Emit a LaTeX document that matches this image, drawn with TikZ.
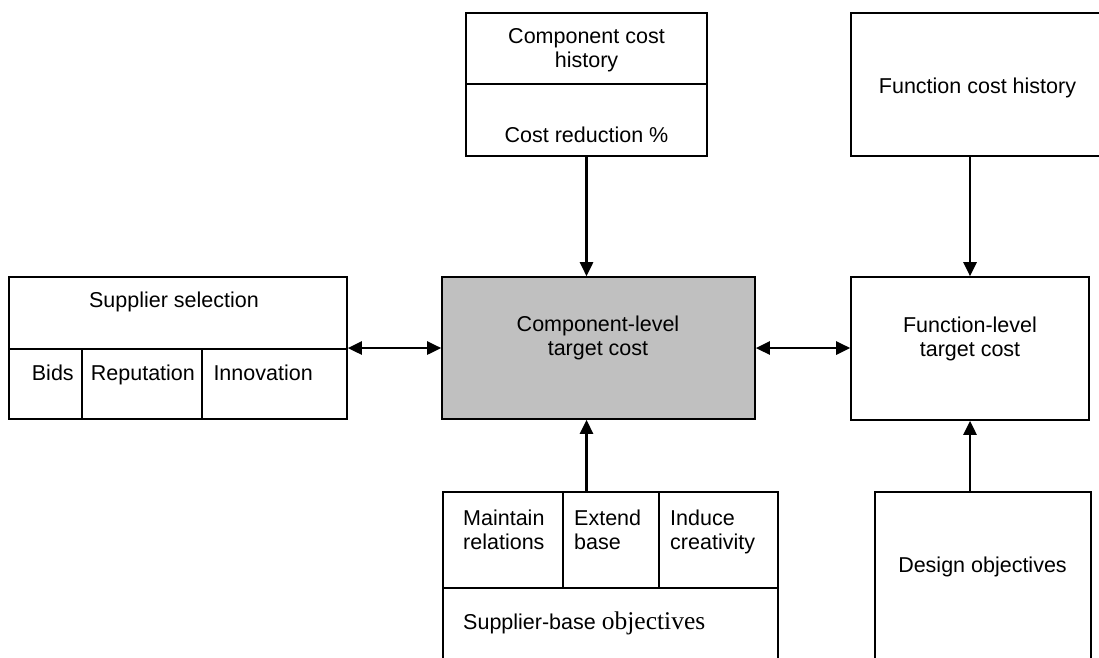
\documentclass[tikz,border=0pt]{standalone}
\usepackage{fontspec}
\setmainfont{Liberation Sans}
\newfontfamily\serifpart{Liberation Serif}
\usetikzlibrary{arrows.meta,fit}
\definecolor{boxgray}{HTML}{C0C0C0}
\begin{document}
\begin{tikzpicture}[x=1pt,y=-1pt,
  box/.style={draw=black, line width=1.6pt, inner sep=0pt, fit={#1}},
  divider/.style={line width=1.4pt},
  lbl/.style={inner sep=0pt, font=\fontsize{21.5}{24}\selectfont, align=center},
  lbll/.style={inner sep=0pt, font=\fontsize{21.5}{24}\selectfont, align=left},
  link/.style={line width=2.6pt, -{Triangle[length=14pt,width=13pt]}},
  duplex/.style={line width=2.6pt, {Triangle[length=14pt,width=13pt]}-{Triangle[length=14pt,width=13pt]}},
]
\useasboundingbox (0,0) rectangle (1099,657);
\clip (0,0) rectangle (1099,657);

% component cost history
\node[box={(466,13) (707,156)}] (cch) {};
\draw[divider] (466,84) -- (707,84);
\node[lbl, anchor=north] (cchT) at (586.5,28.3) {Component cost\\history};
\node[lbl, anchor=north] (crp) at (586.5,126.7) {Cost reduction \%};

% function cost history
\node[box={(851,13) (1104,156)}] (fch) {};
\node[lbl, anchor=north] (fchT) at (977.5,77.3) {Function cost history};

% supplier selection
\node[box={(9,277) (347,419)}] (sup) {};
\draw[divider] (9,349) -- (347,349);
\draw[divider] (82,349) -- (82,419);
\draw[divider] (202,349) -- (202,419);
\node[lbl, anchor=north] (supT) at (174,291.7) {Supplier selection};
\node[lbll, anchor=north west] (bids) at (31.7,365) {Bids};
\node[lbll, anchor=north west] (rep) at (90.7,365) {Reputation};
\node[lbll, anchor=north west] (inn) at (213.3,365) {Innovation};

% component-level target cost
\node[box={(442,277) (755,419)}, fill=boxgray] (clt) {};
\node[lbl, anchor=north] (cltT) at (598,315.7) {Component-level\\target cost};

% function-level target cost
\node[box={(851,277) (1089,420)}] (flt) {};
\node[lbl, anchor=north] (fltT) at (970,316.7) {Function-level\\target cost};

% supplier-base objectives
\node[box={(443,492) (778,675)}] (sbo) {};
\draw[divider] (443,588) -- (778,588);
\draw[divider] (563,492) -- (563,588);
\draw[divider] (659,492) -- (659,588);
\node[lbll, anchor=north west] (mr) at (463,509.3) {Maintain\\relations};
\node[lbll, anchor=north west] (eb) at (574,509.3) {Extend\\base};
\node[lbll, anchor=north west] (ic) at (670,509.3) {Induce\\creativity};
\node[lbll, anchor=north west] (sboT) at (463,611.7) {Supplier-base {\serifpart\fontsize{25.5}{24}\selectfont objectives}};

% design objectives
\node[box={(875,492) (1091,675)}] (dob) {};
\node[lbl, anchor=north] (dobT) at (982.5,556.7) {Design objectives};

% connectors
\draw[link] (cch.south) -- (cch.south |- clt.north);
\draw[link] (flt.north |- fch.south) -- (flt.north);
\draw[duplex] (sup.east) -- (clt.west);
\draw[duplex] (clt.east) -- (clt.east -| flt.west);
\draw[link] (cch.south |- sbo.north) -- (cch.south |- clt.south);
\draw[link] (flt.south |- dob.north) -- (flt.south);
\end{tikzpicture}
\end{document}
